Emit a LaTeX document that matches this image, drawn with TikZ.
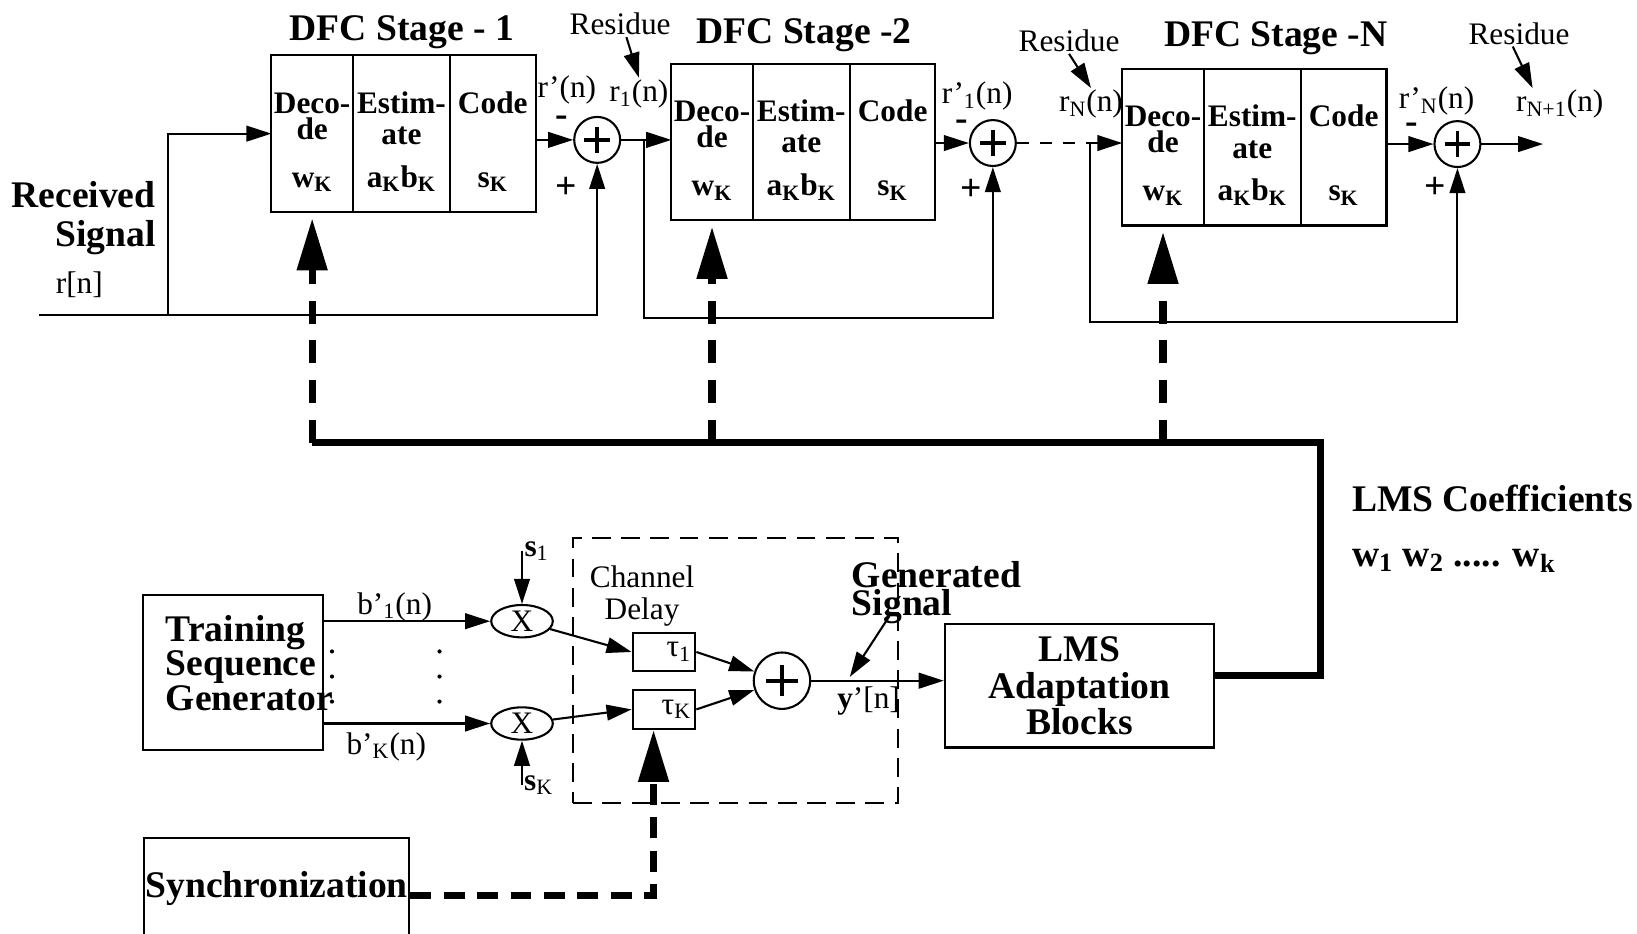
\documentclass[tikz,border=0pt]{standalone}
\usepackage{fontspec}
\setmainfont{Liberation Serif}
\usetikzlibrary{arrows.meta,positioning,shapes.geometric,calc}

\newcommand{\bigbf}{\fontsize{18}{16}\selectfont\bfseries}
\newcommand{\colbf}{\fontsize{15}{12.5}\selectfont\bfseries}
\newcommand{\lblfont}{\fontsize{15}{15.5}\selectfont}
\newcommand{\colgap}{\rule{0pt}{18pt}}

\tikzset{
  stagecol/.style={draw, minimum height=75pt, inner sep=0pt, outer sep=0pt, anchor=north west, align=center, font=\colbf},
  stagetitle/.style={font=\bigbf, inner sep=0pt},
  summer/.style={circle, draw, minimum size=22pt, inner sep=0pt,
    path picture={\draw[line width=1.8pt]
      ($(path picture bounding box.west)!0.22!(path picture bounding box.east)$) --
      ($(path picture bounding box.west)!0.78!(path picture bounding box.east)$)
      ($(path picture bounding box.north)!0.22!(path picture bounding box.south)$) --
      ($(path picture bounding box.north)!0.78!(path picture bounding box.south)$);}},
  sig/.style={-{Triangle[length=12pt,width=7.5pt]}},
  thickdash/.style={line width=3.5pt, dash pattern=on 11pt off 8pt, -{Triangle[length=25pt,width=14pt]}},
  syncdash/.style={line width=3.5pt, dash pattern=on 10pt off 6pt, -{Triangle[length=25pt,width=14pt]}},
  bus/.style={line width=3.5pt},
  chbox/.style={draw, dash pattern=on 9pt off 5pt},
  box/.style={draw, inner sep=0pt},
  delay/.style={draw, minimum width=30pt, minimum height=18.5pt, text width=26pt, align=right, inner sep=1pt, font=\lblfont},
  mult/.style={ellipse, draw, minimum width=29.5pt, minimum height=15.5pt, inner sep=0pt, font=\lblfont},
  lbl/.style={font=\lblfont, inner sep=0.5pt},
  sign/.style={font=\bigbf, inner sep=0pt}
}

\begin{document}
\begin{tikzpicture}[x=0.5pt, y=-0.5pt, line width=1pt]
\useasboundingbox (0,0) rectangle (1568,894);

% DFC stages
\foreach \s/\x/\y in {1/260/53, 2/643/61, N/1075/66} {
  \node[stagecol, minimum width=39pt] (dec\s) at (\x,\y) {\colgap Deco-\\de\\[10.5pt]w\textsubscript{K}};
  \node[stagecol, minimum width=46.5pt, right=0pt of dec\s] (est\s) {\colgap Estim-\\[2.5pt]ate\\[8pt]a\textsubscript{K}b\textsubscript{K}};
  \node[stagecol, minimum width=41pt, right=0pt of est\s] (code\s) {\colgap Code\\[23pt]s\textsubscript{K}};
}
\node[stagetitle] (title1) at (385,31) {DFC Stage - 1};
\node[stagetitle] (title2) at (770,34) {DFC Stage -2};
\node[stagetitle] (titleN) at (1222,37) {DFC Stage -N};

\node[summer] (sum1) at (572,134) {};
\node[summer] (sum2) at (951,137) {};
\node[summer] (sumN) at (1396,138) {};

\node[sign] (neg1) at (538,116) {-};
\node[sign] (neg2) at (921,120) {-};
\node[sign] (negN) at (1352,123) {-};
\node[sign] (pos1) at (542,180) {+};
\node[sign] (pos2) at (930,182) {+};
\node[sign] (posN) at (1375,180) {+};

\node[lbl] (rp1) at (543,86) {r'(n)};
\node[lbl] (r1) at (612,90) {r\textsubscript{1}(n)};
\node[lbl] (rp2) at (936,92) {r'\textsubscript{1}(n)};
\node[lbl] (rN) at (1045,100) {r\textsubscript{N}(n)};
\node[lbl] (rpN) at (1376,97) {r'\textsubscript{N}(n)};
\node[lbl] (rN1) at (1494,100) {r\textsubscript{N+1}(n)};

\node[lbl] (res1) at (594,23) {Residue};
\node[lbl] (res2) at (1024,39) {Residue};
\node[lbl] (res3) at (1455,32) {Residue};
\draw[sig] ([xshift=3pt]res1.south) -- (r1.north);
\draw[sig] (res2.south) -- (rN.north);
\draw[sig] ([xshift=-3pt]res3.south) -- ([xshift=-13pt]rN1.north);

\node[font=\fontsize{18}{19}\selectfont\bfseries, align=right, anchor=east, inner sep=0pt] (rxlbl) at (150,209) {Received\\Signal};
\node[lbl] (rnlbl) at (76,273) {r[n]};

% signal paths
\coordinate (rin) at (37,302);
\coordinate (split0) at (161,302);
\coordinate (split1) at (617,134);
\coordinate (split2) at (1044,137);
\coordinate (rout) at (1478,138);
\draw (rin) -- (split0);
\draw[sig] (split0) |- (dec1.west);
\draw[sig] (split0) -| (sum1.south);
\draw[sig] (code1.east |- sum1) -- (sum1);
\draw[sig] (sum1) -- (sum1 -| dec2.west);
\draw[sig] (split1) -- ++(0,171) -| (sum2.south);
\draw[sig] (code2.east |- sum2) -- (sum2);
\draw[dash pattern=on 6pt off 5pt] (sum2.east) -- (split2);
\draw[sig] (split2) -- (split2 -| decN.west);
\draw[sig] (split2) -- ++(0,171) -| (sumN.south);
\draw[sig] (codeN.east |- sumN) -- (sumN);
\draw[sig] (sumN) -- (rout);

% coefficient bus
\coordinate (busL) at (298.5,424);
\coordinate (busR) at (1265,424);
\foreach \s in {1,2,N}
  \draw[thickdash] (dec\s.south |- busL) -- ([yshift=-3pt]dec\s.south);

\node[font=\bigbf, anchor=west, inner sep=0pt] (coef) at (1294,477) {LMS Coefficients};
\node[font=\bigbf, anchor=west, inner sep=0pt] (wlist) at (1294,537) {w\textsubscript{1} w\textsubscript{2} ..... w\textsubscript{k}};

% training part
\node[box, minimum width=86pt, minimum height=74pt] (tsg) at (223,644) {};
\node[font=\fontsize{18}{16.5}\selectfont\bfseries, align=left, anchor=west, inner sep=0pt] (tsgtxt) at (158,635) {Training\\Sequence\\Generator};

\node[mult] (x1) at (500,595) {X};
\node[mult] (xK) at (500,693) {X};
\node[lbl] (b1) at (378,581) {b'\textsubscript{1}(n)};
\node[lbl] (bK) at (370,715) {b'\textsubscript{K}(n)};
\draw[sig] (tsg.east |- x1) -- (x1);
\draw[sig] (tsg.east |- xK) -- (xK);
\foreach \yy in {624,648,672} {
  \fill (318,\yy) circle (1pt);
  \fill (421,\yy) circle (1pt);
}
\node[lbl, inner sep=0pt] (s1) at (514,528) {\textbf{s}\textsubscript{1}};
\node[lbl, inner sep=0pt] (sK) at (516,752) {\textbf{s}\textsubscript{K}};
\draw[sig] (s1.west -| x1.north) -- (x1.north);
\draw[sig] (sK.west -| xK.south) -- (xK.south);

\node[chbox, minimum width=155.5pt, minimum height=127pt] (chan) at (704.5,642) {};
\node[lbl, align=center] (chlbl) at (615,571) {Channel\\Delay};
\node[delay] (tau1) at (636,624.5) {τ\textsubscript{1}};
\node[delay] (tauK) at (636,679.5) {τ\textsubscript{K}};
\draw[sig] (x1) -- (tau1.west);
\draw[sig] (xK) -- (tauK.west);

\node[summer, minimum size=27pt] (sum3) at (749,652) {};
\draw[sig] (tau1.east) -- (sum3);
\draw[sig] (tauK.east) -- (sum3);

\node[box, font=\fontsize{18}{17.5}\selectfont\bfseries, minimum width=129pt, minimum height=59pt, align=center] (lms) at (1034,657) {LMS\\Adaptation\\Blocks};
\draw[sig] (sum3) -- (sum3 -| lms.west);

\node[font=\fontsize{18}{13.5}\selectfont\bfseries, align=left, anchor=north west, inner sep=0pt] (gen) at (815,537) {Generated\\Signal};
\node[lbl, inner sep=0pt] (ylbl) at (832,671) {\textbf{y}'[n]};
\coordinate (genarr) at (852,590);
\draw[sig] (genarr) -- ([xshift=-9pt,yshift=4pt]ylbl.north);

\draw[bus] ([yshift=5pt]lms.east) -| (busR) -- (busL);

% synchronization
\node[box, font=\bigbf, minimum width=127pt, minimum height=48pt] (sync) at (265,851) {Synchronization};
\draw[syncdash] ([yshift=-3.5pt]sync.east) -| ([xshift=-5pt]tauK.south);
\end{tikzpicture}
\end{document}
